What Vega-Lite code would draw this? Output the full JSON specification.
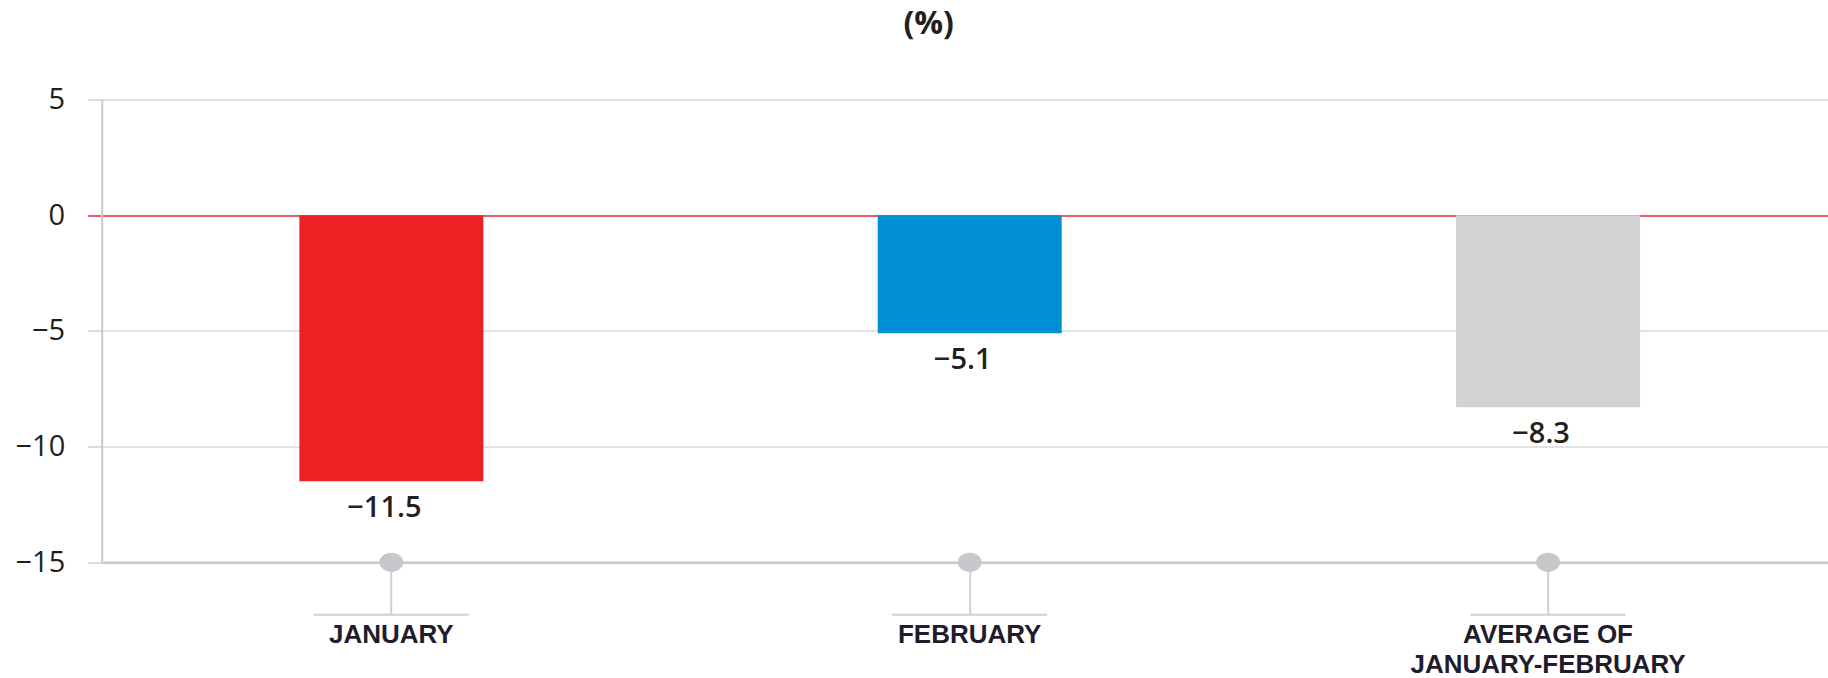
{
  "$schema": "https://vega.github.io/schema/vega-lite/v6.json",
  "autosize": {"type": "none"},
  "padding": {"left": 101.7, "top": 99.5, "right": 0, "bottom": 115.7},
  "width": 1726,
  "height": 462.8,
  "background": "white",
  "title": {
    "text": "(%)",
    "font": "Open Sans",
    "fontSize": 32,
    "fontWeight": "bold",
    "color": "#231f20",
    "anchor": "middle",
    "dx": -36,
    "offset": 45
  },
  "config": {"view": {"stroke": null}},
  "data": {
    "values": [
      {"month": "JANUARY", "value": -11.5},
      {"month": "FEBRUARY", "value": -5.1},
      {"month": "AVERAGE OF JANUARY-FEBRUARY", "value": -8.3}
    ]
  },
  "encoding": {
    "x": {
      "field": "month",
      "type": "nominal",
      "sort": null,
      "scale": {"paddingInner": 0.6819, "paddingOuter": 0.3331, "align": 0.513},
      "axis": {
        "title": null,
        "labelAngle": 0,
        "domain": true,
        "domainColor": "#c8c8cc",
        "domainWidth": 2.5,
        "ticks": true,
        "tickSize": 52,
        "tickWidth": 2,
        "tickColor": "#d0d0d3",
        "labelFont": "Liberation Sans",
        "labelFontSize": 26,
        "labelFontWeight": "bold",
        "labelColor": "#1f1d2b",
        "labelPadding": 7,
        "labelLineHeight": 30,
        "labelBaseline": "top",
        "labelLimit": 0,
        "labelOverlap": false,
        "labelExpr": "datum.value == 'AVERAGE OF JANUARY-FEBRUARY' ? ['AVERAGE OF', 'JANUARY-FEBRUARY'] : datum.value",
        "zindex": 0
      }
    },
    "y": {
      "field": "value",
      "type": "quantitative",
      "scale": {"domain": [-15, 5], "nice": false, "zero": false},
      "axis": {
        "title": null,
        "values": [-15, -10, -5, 0, 5],
        "domain": true,
        "domainColor": "#c8c8cc",
        "domainWidth": 2,
        "tickSize": 14,
        "tickWidth": 2,
        "tickColor": {"condition": {"test": "datum.value === 0", "value": "#ef5b63"}, "value": "#dcdcdc"},
        "grid": true,
        "gridWidth": 2,
        "gridColor": {"condition": {"test": "datum.value === 0", "value": "#ef5b63"}, "value": "#e2e2e2"},
        "labelFont": "Open Sans",
        "labelFontSize": 29,
        "labelColor": "#231f20",
        "labelPadding": 23,
        "zindex": 0
      }
    }
  },
  "layer": [
    {
      "mark": {"type": "bar"},
      "encoding": {
        "color": {
          "field": "month",
          "type": "nominal",
          "scale": {
            "domain": ["JANUARY", "FEBRUARY", "AVERAGE OF JANUARY-FEBRUARY"],
            "range": ["#ed2124", "#008fd5", "#d1d2d4"]
          },
          "legend": null
        }
      }
    },
    {
      "mark": {
        "type": "text",
        "baseline": "top",
        "align": "center",
        "dy": 13,
        "dx": -7,
        "font": "Open Sans",
        "fontSize": 29,
        "fontWeight": 600,
        "color": "#231f20"
      },
      "encoding": {
        "text": {"field": "value", "type": "quantitative", "format": ".1f"}
      }
    },
    {
      "mark": {
        "type": "point",
        "shape": "M-1,0A1,0.8,0,1,0,1,0A1,0.8,0,1,0,-1,0Z",
        "size": 576,
        "filled": true,
        "opacity": 1,
        "color": "#c8c8cc"
      },
      "encoding": {
        "y": {"datum": -15}
      }
    },
    {
      "mark": {
        "type": "tick",
        "orient": "horizontal",
        "size": 155,
        "thickness": 2,
        "color": "#d0d0d3",
        "opacity": 1
      },
      "encoding": {
        "y": {"datum": -17.27}
      }
    }
  ]
}
